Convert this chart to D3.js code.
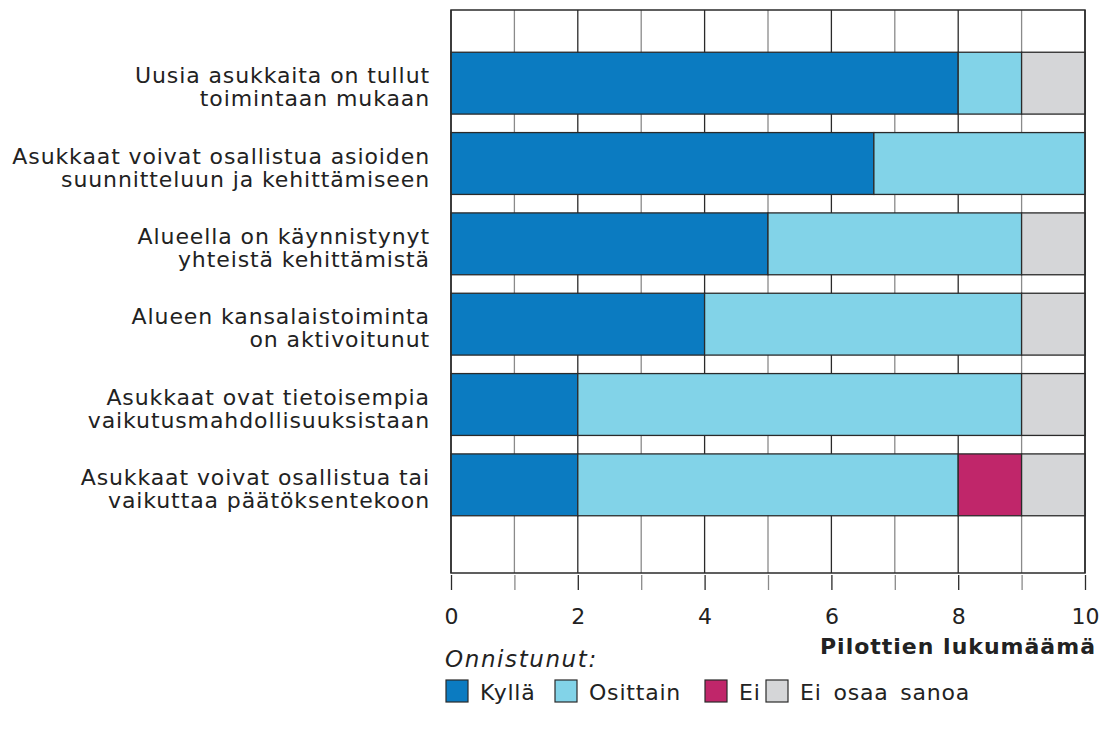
<!DOCTYPE html>
<html>
<head>
<meta charset="utf-8">
<title>Pilottien onnistuminen</title>
<script src="https://d3js.org/d3.v7.min.js"></script>
<style>
  body { margin: 0; background: #fff; }
  text { font-family: "DejaVu Sans", Verdana, sans-serif; fill: #222; }
</style>
</head>
<body>
<div id="chart"></div>
<script>
// data
const categories = [
  ["Uusia asukkaita on tullut", "toimintaan mukaan"],
  ["Asukkaat voivat osallistua asioiden", "suunnitteluun ja kehittämiseen"],
  ["Alueella on käynnistynyt", "yhteistä kehittämistä"],
  ["Alueen kansalaistoiminta", "on aktivoitunut"],
  ["Asukkaat ovat tietoisempia", "vaikutusmahdollisuuksistaan"],
  ["Asukkaat voivat osallistua tai", "vaikuttaa päätöksentekoon"]
];
const seriesNames = ["Kyllä", "Osittain", "Ei", "Ei osaa sanoa"];
const kylla    = [8, 6.67, 5, 4, 2, 2];
const osittain = [1, 3.33, 4, 5, 7, 6];
const ei       = [0, 0, 0, 0, 0, 1];
const eiOsaa   = [1, 0, 1, 1, 1, 1];
const tickValues = [0, 1, 2, 3, 4, 5, 6, 7, 8, 9, 10];
const colors = ["#0b7bc1", "#82d3e8", "#c0266a", "#d5d6d8"];

const W = 1108, H = 733;
const plotLeft = 451, plotRight = 1085, plotTop = 10, plotBottom = 573;

const svg = d3.select("#chart").append("svg")
    .attr("width", W).attr("height", H);

const x = d3.scaleLinear().domain([0, 10]).range([plotLeft, plotRight]);
const keys = categories.map((c, i) => i);
const y = d3.scaleBand().domain(keys).range([43, 525])
    .paddingInner(0.23).paddingOuter(0.115);

// grid
svg.append("g").selectAll("line")
  .data(tickValues)
  .join("line")
    .attr("x1", d => x(d)).attr("x2", d => x(d))
    .attr("y1", plotTop).attr("y2", plotBottom)
    .attr("stroke", d => d % 2 === 0 ? "#2a2a2a" : "#8a8a8a")
    .attr("stroke-width", 1.3);

// stacked bars
const rows = categories.map((c, i) => ({
  i: i, "Kyllä": kylla[i], "Osittain": osittain[i], "Ei": ei[i], "Ei osaa sanoa": eiOsaa[i]
}));
const stacked = d3.stack().keys(seriesNames)(rows);

svg.append("g").selectAll("g")
  .data(stacked)
  .join("g")
    .attr("fill", (d, i) => colors[i])
  .selectAll("rect")
  .data(d => d.filter(s => s[1] - s[0] > 0))
  .join("rect")
    .attr("x", d => x(d[0]))
    .attr("width", d => x(d[1]) - x(d[0]))
    .attr("y", d => y(d.data.i))
    .attr("height", y.bandwidth())
    .attr("stroke", "#2a2a2a")
    .attr("stroke-width", 1.3);

// frame
svg.append("rect")
    .attr("x", plotLeft).attr("y", plotTop)
    .attr("width", plotRight - plotLeft).attr("height", plotBottom - plotTop)
    .attr("fill", "none").attr("stroke", "#2a2a2a").attr("stroke-width", 1.5);

// x axis
const xAxis = d3.axisBottom(x)
    .tickValues(tickValues)
    .tickSize(15)
    .tickPadding(18)
    .tickFormat(d => d % 2 === 0 ? d : "");
const gx = svg.append("g")
    .attr("transform", "translate(0," + (plotBottom + 2) + ")")
    .call(xAxis);
gx.select(".domain").remove();
gx.selectAll(".tick line")
    .attr("stroke", d => d % 2 === 0 ? "#2a2a2a" : "#8a8a8a")
    .attr("stroke-width", 1.3);
gx.selectAll(".tick text")
    .attr("font-size", "22px")
    .attr("font-family", "DejaVu Sans, sans-serif")
    .attr("fill", "#222");

svg.append("text")
    .attr("x", 1096).attr("y", 654)
    .attr("text-anchor", "end")
    .attr("font-size", "22px")
    .attr("font-weight", "bold")
    .attr("letter-spacing", "1px")
    .text("Pilottien lukumäämä");

// category labels
const lab = svg.append("g").selectAll("text")
  .data(categories)
  .join("text")
    .attr("text-anchor", "end")
    .attr("font-size", "22px")
    .attr("letter-spacing", "0.9px");
lab.each(function(d, i) {
  const cy = y(i) + y.bandwidth() / 2;
  d3.select(this).selectAll("tspan")
    .data(d)
    .join("tspan")
      .attr("x", 430)
      .attr("y", (t, j) => cy + (j === 0 ? 0 : 23))
      .text(t => t);
});

// legend
svg.append("text")
    .attr("x", 445).attr("y", 667)
    .attr("font-size", "23px")
    .attr("font-style", "italic")
    .attr("letter-spacing", "1.6px")
    .text("Onnistunut:");

const legX = [446, 555, 705, 766];
const leg = svg.append("g").selectAll("g")
  .data(seriesNames)
  .join("g")
    .attr("transform", (d, i) => "translate(" + legX[i] + ",680)");
leg.append("rect")
    .attr("width", 22).attr("height", 22)
    .attr("fill", (d, i) => colors[i])
    .attr("stroke", "#2a2a2a").attr("stroke-width", 1.2);
leg.append("text")
    .attr("x", 34).attr("y", 20)
    .attr("font-size", "22px")
    .attr("letter-spacing", "0.8px")
    .attr("word-spacing", "4px")
    .text(d => d);
</script>
</body>
</html>
